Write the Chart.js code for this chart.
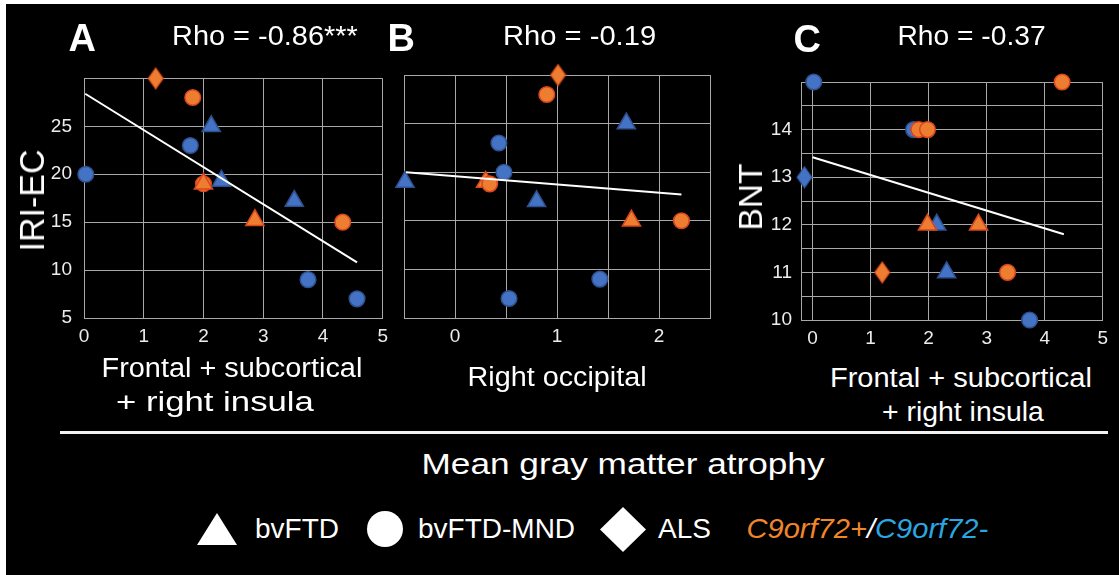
<!DOCTYPE html>
<html>
<head>
<meta charset="utf-8">
<script src="https://cdn.jsdelivr.net/npm/chart.js@4.4.1/dist/chart.umd.min.js"></script>
<style>
  body { margin: 0; background: #fff; width: 1119px; height: 575px; overflow: hidden; }
  #fig { position: absolute; left: 6px; top: 4px; width: 1113px; height: 571px; background: #000; }
  canvas { position: absolute; }
  .t { position: absolute; color: #fff; font-family: "Liberation Sans", Arial, sans-serif;
       white-space: nowrap; line-height: 1; transform-origin: center center; }
  .mk { position: absolute; background: #fff; }
  #rule { position: absolute; left: 60px; top: 431px; width: 1048px; height: 3px; background: #f2f2f2; }
</style>
</head>
<body>
<div id="fig"></div>
<div id="rule"></div>
<canvas id="panelA" width="365" height="300" style="left:30px;top:55px"></canvas>
<canvas id="panelB" width="330" height="300" style="left:392px;top:55px"></canvas>
<canvas id="panelC" width="360" height="300" style="left:755px;top:60px"></canvas>
<script>
// ---- data ----
// A: IRI-EC vs frontal + subcortical + right insula atrophy
const aAtrophy = [1.2, 1.82, 2.13, 1.78, 0.03, 2.0, 2.0, 2.3, 3.52, 2.86, 4.33, 3.75, 4.57];
const aIriEc   = [30, 28, 25, 23, 20, 19, 19, 19.3, 17.2, 15.2, 15, 9, 7];
const aGroup   = ['ALS', 'bvFTD-MND', 'bvFTD', 'bvFTD-MND', 'bvFTD-MND', 'bvFTD-MND', 'bvFTD', 'bvFTD', 'bvFTD', 'bvFTD', 'bvFTD-MND', 'bvFTD-MND', 'bvFTD-MND'];
const aC9      = ['+', '+', '-', '-', '-', '+', '+', '-', '-', '+', '+', '-', '-'];
const aTrendX  = [0.02, 4.57];
const aTrendY  = [28.4, 10.8];

// B: IRI-EC vs right occipital atrophy
const bAtrophy = [1.01, 0.9, 1.68, 0.43, 0.48, -0.49, 0.3, 0.34, 0.8, 1.73, 2.22, 1.42, 0.53];
const bIriEc   = [30, 28, 25, 23, 20, 19, 19, 18.8, 17, 15, 15, 9, 7];
const bGroup   = ['ALS', 'bvFTD-MND', 'bvFTD', 'bvFTD-MND', 'bvFTD-MND', 'bvFTD', 'bvFTD', 'bvFTD-MND', 'bvFTD', 'bvFTD', 'bvFTD-MND', 'bvFTD-MND', 'bvFTD-MND'];
const bC9      = ['+', '+', '-', '-', '-', '-', '+', '+', '-', '+', '+', '-', '-'];
const bTrendX  = [-0.48, 2.22];
const bTrendY  = [20, 17.7];

// C: BNT vs frontal + subcortical + right insula atrophy
const cAtrophy = [0.02, 4.3, 1.74, 1.83, 1.98, -0.14, 2.14, 1.98, 2.86, 1.2, 2.31, 3.36, 3.74];
const cBnt     = [15, 15, 14, 14, 14, 13, 12, 12, 12, 11, 11, 11, 10];
const cGroup   = ['bvFTD-MND', 'bvFTD-MND', 'bvFTD-MND', 'bvFTD-MND', 'bvFTD-MND', 'ALS', 'bvFTD', 'bvFTD', 'bvFTD', 'ALS', 'bvFTD', 'bvFTD-MND', 'bvFTD-MND'];
const cC9      = ['-', '+', '-', '+', '+', '-', '-', '+', '+', '+', '-', '+', '-'];
const cTrendX  = [0, 4.33];
const cTrendY  = [13.42, 11.8];

// ticks
const aXTicks = [0, 1, 2, 3, 4, 5];
const aXLabels = ['0', '1', '2', '3', '4', '5'];
const abYTicks = [5, 10, 15, 20, 25, 30];
const abYLabels = ['5', '10', '15', '20', '25', ''];
const bXTicks = [-0.5, 0, 0.5, 1, 1.5, 2, 2.5];
const bXLabels = ['', '0', '', '1', '', '2', ''];
const cXTicks = [0, 1, 2, 3, 4, 5];
const cXLabels = ['0', '1', '2', '3', '4', '5'];
const cYTicks = [10, 10.5, 11, 11.5, 12, 12.5, 13, 13.5, 14, 14.5, 15];
const cYLabels = ['10', '', '11', '', '12', '', '13', '', '14', '', ''];

const FONT = '"Liberation Sans", Arial, sans-serif';
const gridColor = '#a8a8a8';
const blueFill = '#4472C4', blueEdge = '#2F528F';
const orangeFill = '#ED7D31', orangeEdge = '#D9461C';

function diamond(fill, edge) {
  const c = document.createElement('canvas');
  c.width = 17; c.height = 23;
  const g = c.getContext('2d');
  g.beginPath();
  g.moveTo(8.5, 1); g.lineTo(16, 11.5); g.lineTo(8.5, 22); g.lineTo(1, 11.5); g.closePath();
  g.fillStyle = fill; g.fill();
  g.lineWidth = 1.2; g.strokeStyle = edge; g.stroke();
  return c;
}
const diaOrange = diamond(orangeFill, orangeEdge);
const diaBlue = diamond(blueFill, blueEdge);

function points(xs, ys) {
  return xs.map((x, i) => ({ x: x, y: ys[i] }));
}

function scatterSet(xs, ys, groups, c9) {
  return {
    data: points(xs, ys),
    pointStyle: groups.map((g, i) => g === 'ALS' ? (c9[i] === '+' ? diaOrange : diaBlue) : (g === 'bvFTD' ? 'triangle' : 'circle')),
    pointRadius: groups.map(g => g === 'bvFTD' ? 10.5 : 7.8),
    pointHoverRadius: groups.map(g => g === 'bvFTD' ? 10.5 : 7.8),
    pointBackgroundColor: c9.map(c => c === '+' ? orangeFill : blueFill),
    pointBorderColor: c9.map(c => c === '+' ? orangeEdge : blueEdge),
    pointBorderWidth: 1.5,
    showLine: false,
    clip: false
  };
}

function trendSet(xs, ys) {
  return {
    data: points(xs, ys),
    showLine: true,
    borderColor: '#ffffff',
    borderWidth: 2,
    pointRadius: 0,
    clip: false
  };
}

function axis(min, max, ticks, labels, fitSize, horizontal, showLabels, pad) {
  return {
    type: 'linear',
    min: min,
    max: max,
    afterBuildTicks: s => { s.ticks = ticks.map(v => ({ value: v })); },
    afterFit: s => { if (horizontal) s.height = fitSize; else s.width = fitSize; },
    grid: { color: gridColor, lineWidth: 1, drawTicks: false },
    border: { color: gridColor, width: 1 },
    ticks: {
      display: showLabels,
      color: '#ececec',
      font: { family: FONT, size: 19 },
      padding: pad,
      autoSkip: false,
      maxRotation: 0,
      callback: (v, i) => labels[i]
    }
  };
}

function panel(id, scatter, trend, xAxis, yAxis, padding) {
  new Chart(document.getElementById(id), {
    type: 'scatter',
    data: { datasets: [trend, scatter] },
    options: {
      responsive: false,
      animation: false,
      events: [],
      layout: { padding: padding },
      plugins: { legend: { display: false }, tooltip: { enabled: false } },
      scales: { x: xAxis, y: yAxis }
    }
  });
}

panel('panelA',
  scatterSet(aAtrophy, aIriEc, aGroup, aC9),
  trendSet(aTrendX, aTrendY),
  axis(0, 5, aXTicks, aXLabels, 37, true, true, 7),
  axis(5, 30, abYTicks, abYLabels, 54, false, true, 12),
  { top: 19, right: 11, bottom: 0, left: 0 });

panel('panelB',
  scatterSet(bAtrophy, bIriEc, bGroup, bC9),
  trendSet(bTrendX, bTrendY),
  axis(-0.5, 2.5, bXTicks, bXLabels, 37, true, true, 7),
  axis(5, 30, abYTicks, abYLabels, 10, false, false, 0),
  { top: 20, right: 11, bottom: 0, left: 0 });

panel('panelC',
  scatterSet(cAtrophy, cBnt, cGroup, cC9),
  trendSet(cTrendX, cTrendY),
  axis(-0.2, 5, cXTicks, cXLabels, 40, true, true, 7),
  axis(10, 15, cYTicks, cYLabels, 46, false, true, 9),
  { top: 22, right: 11, bottom: 0, left: 0 });

// ---- text ----
function text(str, cx, cy, size, opts) {
  opts = opts || {};
  const d = document.createElement('div');
  d.className = 't';
  d.innerHTML = str;
  d.style.fontSize = size + 'px';
  if (opts.bold) d.style.fontWeight = 'bold';
  if (opts.italic) d.style.fontStyle = 'italic';
  document.body.appendChild(d);
  const w = d.offsetWidth, h = d.offsetHeight;
  const k = opts.width ? opts.width / w : 1;
  if (opts.left !== undefined) cx = opts.left + w * k / 2;
  d.style.left = (cx - w / 2) + 'px';
  d.style.top = (cy - h / 2) + 'px';
  d.style.transform = (opts.rotate ? 'rotate(-90deg) ' : '') + 'scaleX(' + k + ')';
  return d;
}

text('A', 82, 38, 38, { bold: true });
text('Rho = -0.86***', 265, 36, 28, { width: 186 });
text('B', 401, 38, 38, { bold: true });
text('Rho = -0.19', 579, 36, 28, { width: 153 });
text('C', 807, 39, 38, { bold: true });
text('Rho = -0.37', 971, 36, 28, { width: 148 });

text('IRI-EC', 31, 200, 35, { rotate: true, width: 102 });
text('BNT', 750, 197, 34, { rotate: true, width: 67 });

text('Frontal + subcortical', 232, 368, 27, { width: 261 });
text('+ right insula', 215, 402, 27, { width: 198 });
text('Right occipital', 557, 377, 27, { width: 179 });
text('Frontal + subcortical', 961, 378, 27, { width: 262 });
text('+ right insula', 963, 412, 27, { width: 162 });

text('Mean gray matter atrophy', 623, 464, 29, { width: 403 });

// legend
function marker(left, top, w, h, clip) {
  const m = document.createElement('div');
  m.className = 'mk';
  m.style.left = left + 'px'; m.style.top = top + 'px';
  m.style.width = w + 'px'; m.style.height = h + 'px';
  m.style.clipPath = clip;
  document.body.appendChild(m);
}
marker(197, 513, 40, 32, 'polygon(50% 0, 100% 100%, 0 100%)');
text('bvFTD', 0, 529, 28, { left: 255 });
marker(367, 511, 36, 36, 'circle(50% at 50% 50%)');
text('bvFTD-MND', 0, 529, 28, { left: 418 });
marker(600, 507, 46, 45, 'polygon(50% 0, 100% 50%, 50% 100%, 0 50%)');
text('ALS', 0, 529, 28, { left: 658 });
text('<span style="color:#F0862A">C9orf72+</span>/<span style="color:#2CA6E0">C9orf72-</span>', 0, 529, 28, { italic: true, left: 746, width: 242 });
</script>
</body>
</html>
